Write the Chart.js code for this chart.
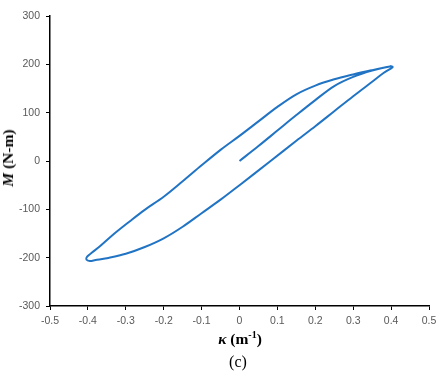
<!DOCTYPE html>
<html>
<head>
<meta charset="utf-8">
<script src="https://cdn.jsdelivr.net/npm/chart.js@4/dist/chart.umd.min.js"></script>
<style>
  html, body { margin: 0; padding: 0; background: #fff; }
  #wrap { position: relative; width: 436px; height: 374px; }
  .lbl { position: absolute; white-space: nowrap; font-family: "Liberation Serif", "DejaVu Serif", serif; color: #000; }
  #ytitle { left: 8px; top: 158px; transform: translate(-50%, -50%) rotate(-90deg); font-weight: bold; font-size: 15.5px; }
  #xtitle { left: 240px; top: 338px; transform: translate(-50%, -50%); font-weight: bold; font-size: 15.5px; }
  #xtitle sup { font-size: 10px; vertical-align: 6px; }
  #caption { left: 238px; top: 362px; transform: translate(-50%, -50%); font-size: 16px; }
</style>
</head>
<body>
<div id="wrap">
  <canvas id="c"></canvas>
  <div class="lbl" id="ytitle"><i>M</i> (N-m)</div>
  <div class="lbl" id="xtitle"><i>κ</i> (m<sup>-1</sup>)</div>
  <div class="lbl" id="caption">(c)</div>
</div>
<script>
// Tick values
const xTickValues = [-0.5, -0.4, -0.3, -0.2, -0.1, 0, 0.1, 0.2, 0.3, 0.4, 0.5];
const yTickValues = [-300, -200, -100, 0, 100, 200, 300];

// Initial loading branch (origin -> peak)
const kappaInitial  = [0, 0.05, 0.10, 0.15, 0.20, 0.25, 0.30, 0.35, 0.40];
const momentInitial = [0, 31, 63, 95, 126, 155, 174, 187, 196];

// Unloading branch (peak -> negative tip)
const kappaUnload  = [0.404, 0.38, 0.35, 0.30, 0.25, 0.20, 0.15, 0.082, 0, -0.05, -0.10, -0.15, -0.20, -0.25, -0.30, -0.35, -0.38, -0.395, -0.404, -0.402];
const momentUnload = [194, 182, 164, 134, 103, 72, 42, 0, -50, -80, -108, -136, -160, -178, -192, -201, -205, -207, -204, -198];

// Reloading branch (negative tip -> peak)
const kappaReload  = [-0.39, -0.369, -0.33, -0.29, -0.25, -0.20, -0.15, -0.10, -0.05, 0, 0.05, 0.10, 0.15, 0.20, 0.25, 0.30, 0.35, 0.38, 0.40];
const momentReload = [-190, -177, -150, -125, -101, -74, -42, -9, 23, 52, 82, 112, 138, 156, 169, 179, 188, 193, 196];

const kappa = kappaInitial.concat(kappaUnload, kappaReload);
const moment = momentInitial.concat(momentUnload, momentReload);
const points = kappa.map((k, i) => ({ x: k, y: moment[i] }));

new Chart(document.getElementById('c'), {
  type: 'scatter',
  data: {
    datasets: [{
      data: points,
      showLine: true,
      borderColor: '#2174C4',
      borderWidth: 2,
      pointRadius: 0,
      tension: 0.35,
      fill: false
    }]
  },
  options: {
    responsive: true,
    maintainAspectRatio: false,
    animation: false,
    layout: { padding: { top: 16, right: 7, left: 0, bottom: 0 } },
    plugins: { legend: { display: false }, tooltip: { enabled: false } },
    scales: {
      x: {
        type: 'linear',
        min: -0.5, max: 0.5,
        afterBuildTicks: s => { s.ticks = xTickValues.map(v => ({ value: v })); },
        afterFit: s => { s.height = 68; s.paddingLeft = 0; s.paddingRight = 0; },
        ticks: {
          callback: v => String(v),
          color: '#595959',
          font: { family: '"Liberation Sans", Arial, sans-serif', size: 10.5 },
          padding: 5,
          maxRotation: 0,
          autoSkip: false
        },
        grid: { display: true, drawOnChartArea: false, drawTicks: true, tickLength: 4, color: '#000', lineWidth: 1 },
        border: { display: true, color: '#000', width: 1.5 }
      },
      y: {
        type: 'linear',
        min: -300, max: 300,
        afterBuildTicks: s => { s.ticks = yTickValues.map(v => ({ value: v })); },
        afterFit: s => { s.width = 50; s.paddingTop = 0; s.paddingBottom = 0; },
        ticks: {
          callback: v => String(v),
          color: '#595959',
          font: { family: '"Liberation Sans", Arial, sans-serif', size: 10.5 },
          padding: 6,
          autoSkip: false
        },
        grid: { display: true, drawOnChartArea: false, drawTicks: true, tickLength: 4, color: '#000', lineWidth: 1 },
        border: { display: true, color: '#000', width: 1.5 }
      }
    }
  }
});
</script>
</body>
</html>
